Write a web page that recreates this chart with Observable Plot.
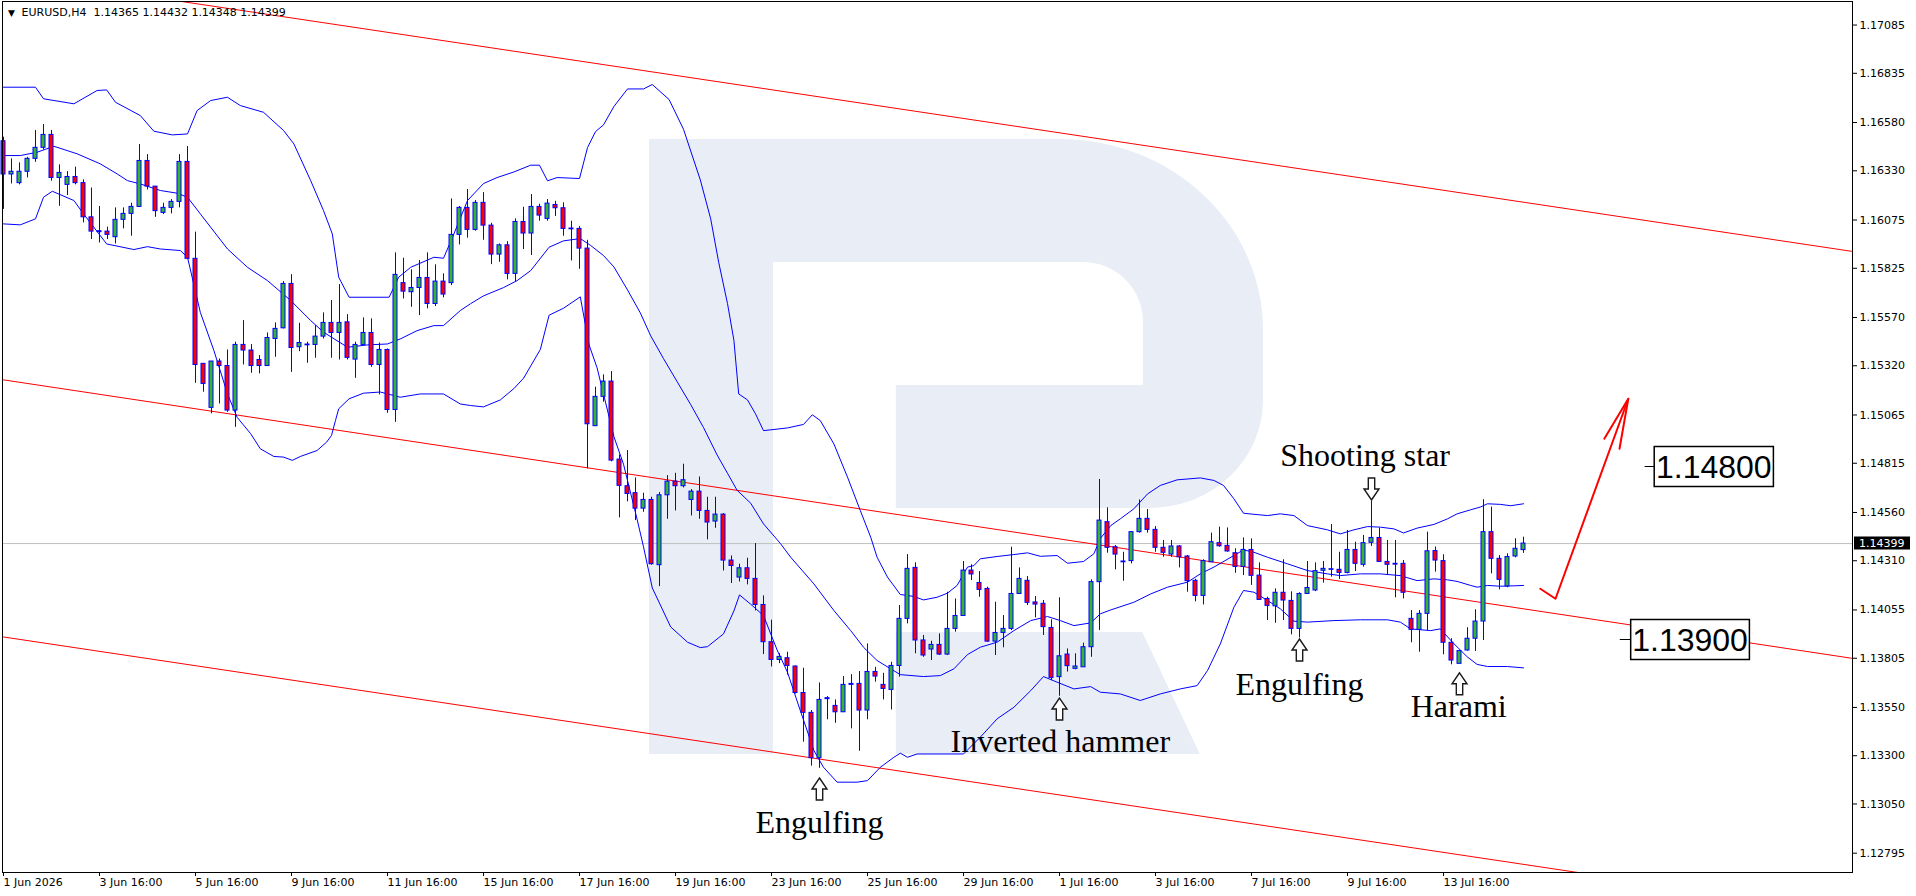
<!DOCTYPE html>
<html><head><meta charset="utf-8">
<script src="https://cdn.jsdelivr.net/npm/d3@7"></script>
<script src="https://cdn.jsdelivr.net/npm/@observablehq/plot@0.6"></script>
<style>html,body{margin:0;padding:0;background:#fff;overflow:hidden}</style>
</head><body><div id="chart"></div>
<script>
// ---------- DATA ----------
const symbol = "EURUSD", timeframe = "H4";
const xTickIdx = [0,12,24,36,48,60,72,84,96,108,120,132,144,156,168,180];
const xTickLabels = ["1 Jun 2026","3 Jun 16:00","5 Jun 16:00","9 Jun 16:00","11 Jun 16:00","15 Jun 16:00","17 Jun 16:00","19 Jun 16:00","23 Jun 16:00","25 Jun 16:00","29 Jun 16:00","1 Jul 16:00","3 Jul 16:00","7 Jul 16:00","9 Jul 16:00","13 Jul 16:00"];
const yTicks = [1.17085,1.16835,1.16580,1.16330,1.16075,1.15825,1.15570,1.15320,1.15065,1.14815,1.14560,1.14310,1.14055,1.13805,1.13550,1.13300,1.13050,1.12795];

const open = [1.16483,1.16311,1.16266,1.16325,1.16392,1.16449,1.16516,1.16293,1.16257,1.16298,1.16266,1.16089,1.16012,1.16015,1.15986,1.16076,1.16107,1.16143,1.16381,1.16248,
1.16112,1.16138,1.16169,1.16376,1.15874,1.15330,1.15102,1.15342,1.15319,1.15088,1.15428,1.15399,1.15350,1.15319,1.15459,1.15514,1.15744,1.15416,1.15426,1.15428,
1.15471,1.15542,1.15490,1.15545,1.15352,1.15428,1.15490,1.15324,1.15402,1.15091,1.15748,1.15701,1.15723,1.15775,1.15640,1.15756,1.15748,1.15998,1.16138,1.16024,
1.16164,1.16046,1.15896,1.15944,1.15796,1.16065,1.16005,1.16143,1.16081,1.16153,1.16136,1.16031,1.16029,1.15927,1.15007,1.15159,1.15238,1.14834,1.14696,1.14660,
1.14580,1.14625,1.14287,1.14649,1.14720,1.14696,1.14625,1.14668,1.14568,1.14513,1.14549,1.14311,1.14223,1.14271,1.14216,1.14081,1.13888,1.13796,1.13805,1.13762,
1.13625,1.13522,1.13287,1.13593,1.13558,1.13525,1.13667,1.13672,1.13534,1.13734,1.13667,1.13641,1.13765,1.14009,1.14273,1.13897,1.13850,1.13874,1.13824,1.13957,
1.14024,1.14259,1.14195,1.14164,1.13891,1.13936,1.13957,1.14138,1.14206,1.14094,1.14087,1.13962,1.13707,1.13824,1.13750,1.13758,1.13862,1.14199,1.14510,1.14380,
1.14306,1.14308,1.14458,1.14527,1.14470,1.14377,1.14342,1.14384,1.14332,1.14206,1.14128,1.14302,1.14401,1.14387,1.14349,1.14278,1.14366,1.14233,1.14112,1.14074,
1.14144,1.14102,1.13957,1.14138,1.14156,1.14258,1.14263,1.14263,1.14247,1.14366,1.14289,1.14403,1.14428,1.14304,1.14294,1.14294,1.14009,1.13952,1.14035,1.14360,
1.14308,1.13885,1.13776,1.13845,1.13906,1.13995,1.14458,1.14320,1.14177,1.14332,1.14365];
const high = [1.16504,1.16392,1.16371,1.16400,1.16539,1.16570,1.16539,1.16361,1.16326,1.16349,1.16283,1.16241,1.16145,1.16038,1.16138,1.16138,1.16162,1.16466,1.16414,1.16248,
1.16162,1.16181,1.16414,1.16456,1.16012,1.15330,1.15342,1.15355,1.15402,1.15442,1.15554,1.15430,1.15373,1.15490,1.15542,1.15756,1.15792,1.15540,1.15442,1.15528,
1.15594,1.15658,1.15741,1.15585,1.15442,1.15568,1.15563,1.15438,1.15407,1.15905,1.15877,1.15817,1.15865,1.15905,1.15843,1.15796,1.16184,1.16145,1.16233,1.16176,
1.16217,1.16058,1.15951,1.15963,1.16081,1.16141,1.16207,1.16157,1.16181,1.16172,1.16164,1.16069,1.16041,1.15970,1.15209,1.15273,1.15290,1.14858,1.14881,1.14739,
1.14660,1.14639,1.14663,1.14751,1.14763,1.14810,1.14679,1.14744,1.14639,1.14639,1.14554,1.14335,1.14292,1.14323,1.14399,1.14128,1.14002,1.13829,1.13836,1.13765,
1.13753,1.13534,1.13677,1.13606,1.13589,1.13710,1.13720,1.13736,1.13879,1.13758,1.13727,1.13784,1.14078,1.14342,1.14299,1.13923,1.13893,1.13931,1.14147,1.14112,
1.14306,1.14289,1.14254,1.14173,1.14095,1.14026,1.14380,1.14273,1.14228,1.14125,1.14104,1.14004,1.14118,1.13853,1.13828,1.13883,1.14211,1.14731,1.14584,1.14389,
1.14354,1.14461,1.14625,1.14575,1.14487,1.14415,1.14415,1.14389,1.14337,1.14214,1.14315,1.14453,1.14484,1.14480,1.14372,1.14428,1.14423,1.14299,1.14121,1.14164,
1.14315,1.14149,1.14144,1.14306,1.14299,1.14306,1.14498,1.14354,1.14467,1.14406,1.14441,1.14617,1.14479,1.14415,1.14415,1.14311,1.14052,1.14052,1.14458,1.14381,
1.14341,1.13906,1.13845,1.13963,1.14056,1.14626,1.14588,1.14337,1.14346,1.14424,1.14432];
const low = [1.16130,1.16262,1.16257,1.16293,1.16374,1.16438,1.16276,1.16146,1.16202,1.16257,1.16060,1.15974,1.15956,1.15974,1.15951,1.16029,1.15991,1.16141,1.16231,1.16089,
1.16103,1.16107,1.16138,1.15870,1.15229,1.15183,1.15071,1.15122,1.15079,1.15001,1.15324,1.15281,1.15278,1.15316,1.15364,1.15511,1.15286,1.15393,1.15333,1.15359,
1.15459,1.15359,1.15350,1.15350,1.15255,1.15428,1.15312,1.15169,1.15074,1.15027,1.15666,1.15623,1.15580,1.15615,1.15627,1.15672,1.15735,1.15946,1.15981,1.16017,
1.15970,1.15844,1.15856,1.15765,1.15756,1.15922,1.15891,1.16069,1.16069,1.16093,1.15991,1.15863,1.15820,1.14786,1.15007,1.15131,1.14822,1.14532,1.14615,1.14518,
1.14561,1.14287,1.14176,1.14525,1.14568,1.14687,1.14542,1.14525,1.14418,1.14478,1.14257,1.14192,1.14200,1.14185,1.14050,1.13824,1.13760,1.13777,1.13717,1.13620,
1.13370,1.13246,1.13235,1.13486,1.13468,1.13525,1.13439,1.13323,1.13486,1.13681,1.13589,1.13537,1.13707,1.13983,1.13828,1.13810,1.13793,1.13819,1.13819,1.13940,
1.14021,1.14207,1.14121,1.13888,1.13819,1.13859,1.13948,1.14138,1.14078,1.14014,1.13923,1.13689,1.13608,1.13733,1.13745,1.13758,1.13810,1.13948,1.14349,1.14263,
1.14204,1.14294,1.14453,1.14453,1.14354,1.14328,1.14328,1.14273,1.14147,1.14097,1.14081,1.14302,1.14380,1.14354,1.14245,1.14233,1.14182,1.14104,1.14000,1.13986,
1.14000,1.13926,1.13910,1.14138,1.14150,1.14194,1.14225,1.14213,1.14242,1.14254,1.14277,1.14384,1.14302,1.14233,1.14118,1.14112,1.13885,1.13836,1.13948,1.14251,
1.13823,1.13771,1.13776,1.13842,1.13840,1.13897,1.14242,1.14159,1.14170,1.14325,1.14348];
const close = [1.16311,1.16325,1.16325,1.16392,1.16449,1.16516,1.16293,1.16319,1.16298,1.16266,1.16089,1.16015,1.16017,1.15998,1.16076,1.16107,1.16143,1.16381,1.16248,1.16121,
1.16138,1.16169,1.16376,1.15874,1.15324,1.15226,1.15342,1.15319,1.15088,1.15428,1.15399,1.15319,1.15319,1.15464,1.15511,1.15744,1.15412,1.15438,1.15430,1.15471,
1.15542,1.15490,1.15542,1.15361,1.15428,1.15490,1.15324,1.15402,1.15091,1.15791,1.15704,1.15723,1.15775,1.15640,1.15756,1.15689,1.15998,1.16138,1.16024,1.16164,
1.16046,1.15896,1.15944,1.15796,1.16065,1.16005,1.16143,1.16098,1.16160,1.16136,1.16029,1.16027,1.15927,1.15017,1.15159,1.15238,1.14829,1.14698,1.14656,1.14580,
1.14625,1.14292,1.14649,1.14720,1.14696,1.14727,1.14668,1.14568,1.14508,1.14549,1.14311,1.14283,1.14271,1.14216,1.14081,1.13888,1.13796,1.13812,1.13765,1.13625,
1.13522,1.13287,1.13589,1.13598,1.13525,1.13667,1.13672,1.13534,1.13734,1.13710,1.13646,1.13765,1.14009,1.14268,1.13897,1.13819,1.13874,1.13824,1.13957,1.14024,
1.14259,1.14239,1.14159,1.13891,1.13936,1.13957,1.14138,1.14216,1.14092,1.14083,1.13966,1.13703,1.13815,1.13764,1.13762,1.13862,1.14199,1.14518,1.14377,1.14342,
1.14302,1.14458,1.14527,1.14470,1.14377,1.14351,1.14384,1.14328,1.14204,1.14128,1.14308,1.14406,1.14385,1.14358,1.14278,1.14366,1.14232,1.14107,1.14076,1.14144,
1.14104,1.13957,1.14138,1.14169,1.14256,1.14268,1.14266,1.14247,1.14366,1.14294,1.14401,1.14428,1.14304,1.14289,1.14290,1.14144,1.13952,1.14035,1.14359,1.14311,
1.13885,1.13793,1.13842,1.13906,1.13995,1.14458,1.14320,1.14211,1.14329,1.14372,1.14399];

// Bollinger bands (bar index, price)
const upperIdx = [0,4,5,8.8,11.7,12.9,14,17.1,18.8,21.1,23,24.2,25.9,28,29.6,32.5,35,36.3,38.4,40,41.1,41.9,43.2,48.2,49.4,50.9,53.8,55,56.3,58,60,61.7,63.8,65.9,67,68,69.2,72,73,74,75,76.3,78,80,81.1,83.2,85,87.1,88.4,89.4,90.5,91.3,91.9,93,94,95,98,100,101.1,102.1,103.8,105.5,107.1,108.4,109.2,110.5,112.1,113.8,115,116.7,118,119.2,120.5,121.3,122.1,124.2,126.3,128,129.6,131.7,133,135,136.3,137.1,138.4,139.6,141.3,143,144.6,146.7,149.6,151.3,152.5,153.8,155,156.7,158,159.6,161.3,163,165.5,167.1,168.8,170.5,172.1,173.8,175,176.7,178.8,180.5,181.7,183.4,184.6,185.5,187.1,188.4,190];
const upperVal = [1.16763,1.16763,1.16703,1.16677,1.16746,1.16749,1.16685,1.16616,1.16535,1.16516,1.16521,1.16642,1.16694,1.16711,1.16668,1.16633,1.16539,1.16469,1.16279,1.16124,1.16003,1.15779,1.15675,1.15675,1.15779,1.15830,1.15882,1.15877,1.16003,1.16176,1.16264,1.16295,1.16324,1.16359,1.16359,1.16278,1.16295,1.16290,1.16450,1.16533,1.16568,1.16663,1.16754,1.16754,1.16777,1.16699,1.16545,1.16283,1.16081,1.15856,1.15642,1.15452,1.15174,1.15143,1.15071,1.14984,1.14998,1.15016,1.15066,1.15036,1.14915,1.14743,1.14570,1.14432,1.14328,1.14225,1.14135,1.14125,1.14107,1.14121,1.14142,1.14182,1.14277,1.14285,1.14320,1.14332,1.14342,1.14351,1.14333,1.14337,1.14297,1.14306,1.14346,1.14425,1.14492,1.14527,1.14579,1.14656,1.14700,1.14729,1.14739,1.14726,1.14700,1.14631,1.14556,1.14549,1.14544,1.14553,1.14544,1.14492,1.14470,1.14449,1.14470,1.14487,1.14484,1.14475,1.14454,1.14479,1.14498,1.14527,1.14553,1.14574,1.14588,1.14605,1.14602,1.14595,1.14605];
const middleIdx = [0,2.1,4.2,6.3,9.2,12.1,14.2,15.5,17.1,19.6,21.7,23,24.6,28,30.5,33,35.9,38.4,40,43,45.5,48,49.6,51.7,53.8,55,57.1,58.4,60,62.5,64.2,65.9,68.2,70,72.1,73.4,75,76.3,78,79.6,80.9,82.5,84.2,85.9,87.5,89.2,90.5,91.7,93.4,95,97.1,98.4,101.3,103.8,105.9,107.5,109.2,110.9,112.1,115,117.1,118.8,120.5,122.1,124.2,126.3,128.4,130.5,132.1,133.8,135.9,137.1,138.4,141.3,143.4,145.5,148,149.6,151.3,153.8,155,156.3,158,160.5,163,165.5,167.1,169.6,172.1,174.6,176.7,178.8,180.5,181.7,183.4,184.2,185.5,187.1,188.8,190];
const middleVal = [1.16409,1.16409,1.16426,1.16457,1.16418,1.16366,1.16314,1.16279,1.16262,1.16228,1.16214,1.16193,1.16107,1.15925,1.15830,1.15761,1.15658,1.15554,1.15494,1.15416,1.15428,1.15433,1.15459,1.15502,1.15528,1.15528,1.15606,1.15642,1.15682,1.15725,1.15761,1.15813,1.15934,1.15967,1.15979,1.15943,1.15891,1.15832,1.15713,1.15594,1.15475,1.15357,1.15238,1.15119,1.15000,1.14858,1.14763,1.14675,1.14608,1.14501,1.14400,1.14328,1.14190,1.14052,1.13948,1.13862,1.13793,1.13750,1.13720,1.13710,1.13715,1.13750,1.13824,1.13862,1.13888,1.13948,1.14000,1.14021,1.14000,1.13974,1.13988,1.14035,1.14055,1.14095,1.14138,1.14173,1.14199,1.14242,1.14277,1.14337,1.14366,1.14354,1.14328,1.14294,1.14259,1.14242,1.14233,1.14242,1.14242,1.14233,1.14207,1.14216,1.14211,1.14203,1.14182,1.14173,1.14182,1.14178,1.14180,1.14182];
const lowerIdx = [0,2.1,4,5,6.1,8.8,10,12.9,16.3,18,19.6,22.1,23,24.6,26.3,28,29.2,30.9,32.1,33.8,35,36.1,37.1,39.2,40.4,41,41.5,41.9,43.2,45,47.1,49.6,52.1,55,57.1,58.4,60,62.1,63.8,65,67.1,68.2,70,72.1,73.2,74.2,76.3,77.5,79.2,80,81.1,83.4,85.5,87.1,88,90,91.3,92,93.4,95,96.7,98,99.6,101.3,102.5,104.2,106.7,108,109.6,111.3,112.1,113,114.2,120,122.1,124.2,126.3,128.4,130,131.7,133.8,135.9,137.1,139.6,142.1,144.6,147.1,149.2,150.5,152.1,153.8,155,156.3,158,159.6,161.3,163,166.3,169.6,173,174.6,175.9,178.4,179.6,181.3,183,184.2,185.5,188,190];
const lowerVal = [1.16055,1.16050,1.16081,1.16193,1.16224,1.16176,1.16107,1.15951,1.15922,1.15937,1.15925,1.15917,1.15882,1.15597,1.15399,1.15174,1.15053,1.14968,1.14890,1.14850,1.14847,1.14830,1.14850,1.14881,1.14925,1.14959,1.15037,1.15097,1.15149,1.15178,1.15184,1.15157,1.15174,1.15174,1.15122,1.15114,1.15107,1.15143,1.15202,1.15255,1.15404,1.15582,1.15618,1.15677,1.15428,1.15309,1.14953,1.14810,1.14525,1.14382,1.14169,1.13967,1.13888,1.13860,1.13865,1.13931,1.14050,1.14133,1.14085,1.14026,1.13848,1.13732,1.13534,1.13327,1.13240,1.13163,1.13163,1.13171,1.13240,1.13292,1.13313,1.13292,1.13309,1.13309,1.13396,1.13491,1.13551,1.13637,1.13710,1.13681,1.13646,1.13658,1.13629,1.13620,1.13586,1.13620,1.13646,1.13663,1.13741,1.13879,1.14069,1.14156,1.14147,1.14104,1.14061,1.13997,1.13992,1.14000,1.14004,1.14004,1.13992,1.13957,1.13948,1.13957,1.13880,1.13811,1.13773,1.13762,1.13762,1.13755];

// Regression channel (two ends of each line: bar index, price)
const channelIdx = [0, 231];
const channelTop = [1.17345, 1.15913];
const channelMid = [1.15247, 1.13805];
const channelBot = [1.13915, 1.12483];

// Pattern annotations
const patternNames = ["Engulfing","Inverted hammer","Engulfing","Shooting star","Harami"];
const patternBar = [102, 132, 162, 171, 182];
const patternDir = ["up","up","up","down","up"];
const patternArrowPrice = [1.13182, 1.13596, 1.13902, 1.14622, 1.13727];
const patternTextBar = [102, 132.1, 162, 170.2, 181.9];
const patternTextPrice = [1.12951, 1.13371, 1.13666, 1.14854, 1.13552];

// Level boxes
const levelValues = [1.14800, 1.13900];
const levelTickFrom = [205.2, 202.1];
const levelBoxLeft = [206.4, 203.46];
const levelBoxRight = [221.3, 218.3];

// Forecast arrow (hand drawn)
const forecastIdx = [192.1, 194.0, 203.1];
const forecastVal = [1.14165, 1.14113, 1.15149];
const headIdx = [200.1, 203.1, 202.0];
const headVal = [1.14942, 1.15149, 1.14890];

// Watermark "R" outline (bar index / price)
const wmX = {left: 80.75, stemRight: 96.25, legLeft: 111.6, arcStart: 132.1, holeRight: 142.5, arcEnd2: 143.4, legTopRight: 142.4, legBotRight: 149.6, right: 157.5};
const wmY = {top: 1.16492, holeTop: 1.15855, arcEnd: 1.15503, holeBottom: 1.15218, arcStart2: 1.15140, bowlBottom: 1.14581, legTop: 1.13938, bottom: 1.13306};

// ---------- CHART ----------
const GREEN = "#33b533", RED = "#ff0000", BLUE = "#0000ff";
const bars = open.map((o, i) => ({i, o, h: high[i], l: low[i], c: close[i]}));
const up = bars.filter(d => d.c >= d.o), down = bars.filter(d => d.c < d.o);
const pts = (xs, ys) => xs.map((x, k) => ({x, y: ys[k]}));
const last = bars[bars.length - 1];

function watermark(index, scales) {
  const X = scales.x, Y = scales.y;
  const xl = X(wmX.left), xs = X(wmX.stemRight), xg = X(wmX.legLeft), xa = X(wmX.arcStart),
        xh = X(wmX.holeRight), xb = X(wmX.arcEnd2), xr = X(wmX.right);
  const yt = Y(wmY.top), yht = Y(wmY.holeTop), ya = Y(wmY.arcEnd), yhb = Y(wmY.holeBottom),
        yla = Y(wmY.arcStart2), ybb = Y(wmY.bowlBottom), ylt = Y(wmY.legTop), yb = Y(wmY.bottom);
  const r = 60;
  const d = `M${xl},${yt}H${xa}A${xr - xa},${ya - yt} 0 0 1 ${xr},${ya}V${yla}` +
    `A${xr - xb},${ybb - yla} 0 0 1 ${xb},${ybb}H${xg}V${yhb}H${xh}V${yht + r}` +
    `A${r},${r} 0 0 0 ${xh - r},${yht}H${xs}V${yb}H${xl}Z` +
    `M${xg},${ylt}H${X(wmX.legTopRight)}L${X(wmX.legBotRight)},${yb}H${xg}Z`;
  const g = d3.create("svg:g");
  g.append("path").attr("d", d).attr("fill", "#e8edf6");
  return g.node();
}

function arrows(index, scales) {
  const g = d3.create("svg:g");
  patternBar.forEach((b, k) => {
    const x = Math.round(scales.x(b)) + 0.5, y = scales.y(patternArrowPrice[k]);
    const s = patternDir[k] === "up" ? 1 : -1;
    const shape = [[0,0],[7.5,11],[3.2,11],[3.2,22],[-3.2,22],[-3.2,11],[-7.5,11]];
    g.append("polygon")
      .attr("points", shape.map(([px, py]) => `${x + px},${y + s * py}`).join(" "))
      .attr("fill", "#fff").attr("stroke", "#1a1a1a").attr("stroke-width", 1.4);
  });
  return g.node();
}

function levels(index, scales) {
  const g = d3.create("svg:g");
  levelValues.forEach((v, k) => {
    const y = Math.round(scales.y(v)) + 0.5;
    const xt = scales.x(levelTickFrom[k]), xl = scales.x(levelBoxLeft[k]), xr = scales.x(levelBoxRight[k]);
    g.append("line").attr("x1", xt).attr("x2", xl).attr("y1", y).attr("y2", y).attr("stroke", "#000");
    g.append("rect").attr("x", xl).attr("y", y - 20).attr("width", xr - xl).attr("height", 40)
      .attr("fill", "#fff").attr("stroke", "#000").attr("stroke-width", 1.5);
    g.append("text").attr("x", (xl + xr) / 2).attr("y", y).attr("dy", "0.36em")
      .attr("text-anchor", "middle").attr("font-family", "Liberation Sans").attr("font-size", 32)
      .attr("fill", "#000").text(v.toFixed(5));
  });
  return g.node();
}

function priceTag(index, scales, values, dims) {
  const g = d3.create("svg:g");
  const y = Math.round(scales.y(last.c));
  const x0 = dims.width - dims.marginRight + 2;
  g.append("rect").attr("x", x0).attr("y", y - 6.5).attr("width", 56).attr("height", 13).attr("fill", "#000");
  g.append("text").attr("x", x0 + 5).attr("y", y).attr("dy", "0.36em").attr("fill", "#fff")
    .attr("text-anchor", "start").attr("font-family", "DejaVu Sans").attr("font-size", 11).text(last.c.toFixed(5));
  return g.node();
}

const chart = Plot.plot({
  width: 1916, height: 896,
  marginLeft: 2, marginRight: 64, marginTop: 1, marginBottom: 24,
  style: {fontFamily: "DejaVu Sans", fontSize: "11px", background: "#fff", color: "#000", overflow: "visible"},
  x: {domain: [-0.125, 231.125], axis: null},
  y: {domain: [1.12695, 1.17207], axis: null},
  marks: [
    watermark,
    Plot.ruleY([last.c], {stroke: "#c0c0c0"}),
    Plot.line(pts(channelIdx, channelTop), {x: "x", y: "y", stroke: RED, strokeWidth: 1, clip: true}),
    Plot.line(pts(channelIdx, channelMid), {x: "x", y: "y", stroke: RED, strokeWidth: 1, clip: true}),
    Plot.line(pts(channelIdx, channelBot), {x: "x", y: "y", stroke: RED, strokeWidth: 1, clip: true}),
    Plot.line(pts(upperIdx, upperVal), {x: "x", y: "y", stroke: BLUE, strokeWidth: 1}),
    Plot.line(pts(middleIdx, middleVal), {x: "x", y: "y", stroke: BLUE, strokeWidth: 1}),
    Plot.line(pts(lowerIdx, lowerVal), {x: "x", y: "y", stroke: BLUE, strokeWidth: 1}),
    Plot.ruleX(bars, {x: "i", y1: "l", y2: "h", stroke: BLUE, strokeWidth: 1}),
    Plot.rect(up, {x1: d => d.i - 0.25, x2: d => d.i + 0.25, y1: "o", y2: "c", fill: GREEN, stroke: BLUE, strokeWidth: 1}),
    Plot.rect(down, {x1: d => d.i - 0.25, x2: d => d.i + 0.25, y1: "o", y2: "c", fill: RED, stroke: BLUE, strokeWidth: 1}),
    Plot.frame({stroke: "#000"}),
    Plot.axisY(yTicks, {anchor: "right", tickSize: 4, tickPadding: 3, tickFormat: d => d.toFixed(5), label: null, fontSize: 11}),
    Plot.axisX(xTickIdx, {anchor: "bottom", tickSize: 4, tickPadding: 2, tickFormat: d => xTickLabels[xTickIdx.indexOf(d)], textAnchor: "start", label: null, fontSize: 11}),
    arrows,
    Plot.text(patternNames.map((t, k) => ({t, x: patternTextBar[k], y: patternTextPrice[k]})),
      {x: "x", y: "y", text: "t", fontFamily: "Liberation Serif", fontSize: 32, fill: "#000", textAnchor: "middle", lineAnchor: "middle"}),
    levels,
    Plot.line(pts(forecastIdx, forecastVal), {x: "x", y: "y", stroke: RED, strokeWidth: 2}),
    Plot.line(pts(headIdx, headVal), {x: "x", y: "y", stroke: RED, strokeWidth: 2}),
    Plot.text(["\u25BC"], {frameAnchor: "top-left", dx: 9, dy: 12, textAnchor: "middle", lineAnchor: "middle", fontSize: 9, fill: "#000"}),
    Plot.text([`${symbol},${timeframe}\u00a0\u00a0${last.o.toFixed(5)} ${last.h.toFixed(5)} ${last.l.toFixed(5)} ${last.c.toFixed(5)}`],
      {frameAnchor: "top-left", dx: 19, dy: 11, textAnchor: "start", lineAnchor: "middle", fontSize: 11, fill: "#000"}),
    priceTag
  ]
});
document.getElementById("chart").appendChild(chart);
</script></body></html>
